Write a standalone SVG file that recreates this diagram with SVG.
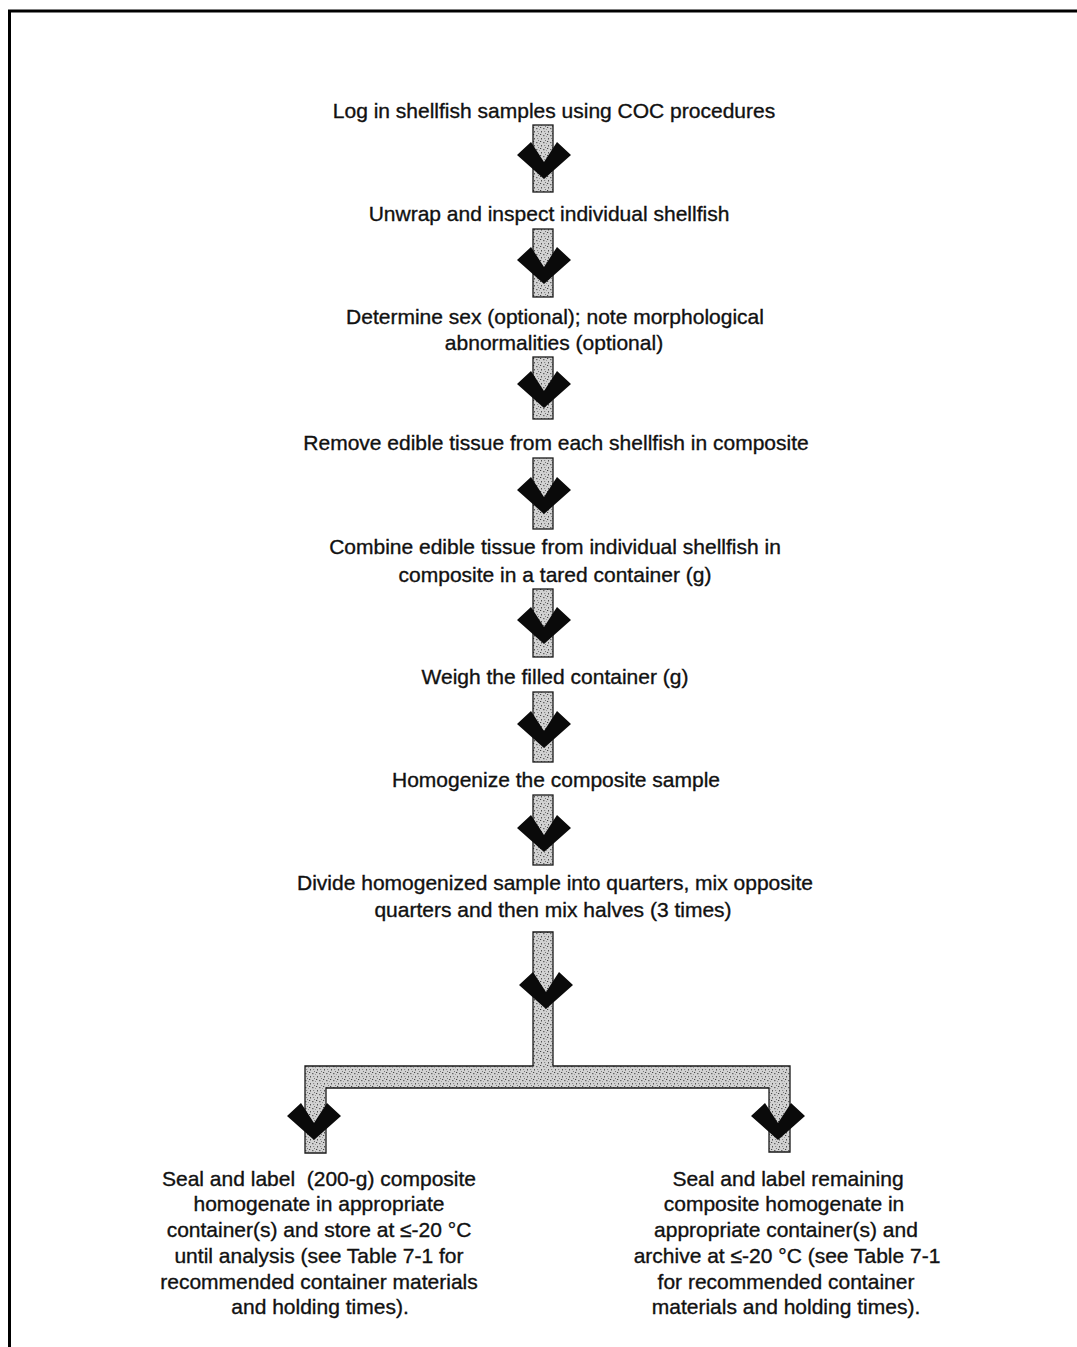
<svg xmlns="http://www.w3.org/2000/svg" width="1077" height="1347" viewBox="0 0 1077 1347">
<defs>
<pattern id="stip" width="7" height="7" patternUnits="userSpaceOnUse">
<rect width="7" height="7" fill="#d2d2d2"/>
<rect x="1" y="1" width="1.2" height="1" fill="#444"/>
<rect x="4" y="2" width="1.5" height="1.2" fill="#666"/>
<rect x="2" y="5" width="1" height="1.5" fill="#555"/>
<rect x="5" y="5" width="1.2" height="1" fill="#888"/>
<rect x="6" y="0" width="1" height="1" fill="#777"/>
<rect x="0" y="3" width="1" height="1" fill="#999"/>
</pattern>
<polygon id="chev" points="-27,13 -13,0 0,20 13,0 27,13 0,37"/>
</defs>
<style>
text{font-family:"Liberation Sans",Arial,sans-serif;font-size:21px;fill:#111;stroke:#111;stroke-width:0.35;text-anchor:middle}
.shaft{fill:url(#stip);stroke:#1a1a1a;stroke-width:1.3}
.chev{fill:#0a0a0a}
.frame{stroke:#000;stroke-width:3;fill:none}
</style>
<rect width="1077" height="1347" fill="#fff"/>
<g id="frame">
<line class="frame" x1="8" y1="11" x2="1077" y2="11"/>
<line class="frame" x1="9.5" y1="10" x2="9.5" y2="1347"/>
</g>
<g id="connectors">
<rect class="shaft" x="533" y="125" width="20" height="67"/>
<use href="#chev" class="chev" x="544" y="142"/>
<rect class="shaft" x="533" y="229" width="20" height="68"/>
<use href="#chev" class="chev" x="544" y="247"/>
<rect class="shaft" x="533" y="357" width="20" height="62"/>
<use href="#chev" class="chev" x="544" y="371"/>
<rect class="shaft" x="533" y="458" width="20" height="71"/>
<use href="#chev" class="chev" x="544" y="477"/>
<rect class="shaft" x="533" y="589" width="20" height="68"/>
<use href="#chev" class="chev" x="544" y="607"/>
<rect class="shaft" x="533" y="692" width="20" height="70"/>
<use href="#chev" class="chev" x="544" y="711"/>
<rect class="shaft" x="533" y="795" width="20" height="70"/>
<use href="#chev" class="chev" x="544" y="815"/>
<path class="shaft" d="M533,932 H553 V1066 H790 V1152 H769 V1088 H326 V1153 H305 V1066 H533 Z"/>
<use href="#chev" class="chev" x="546" y="972"/>
<use href="#chev" class="chev" x="314" y="1103"/>
<use href="#chev" class="chev" x="778" y="1103"/>
</g>
<g id="n1"><text x="554" y="118">Log in shellfish samples using COC procedures</text></g>
<g id="n2"><text x="549" y="221">Unwrap and inspect individual shellfish</text></g>
<g id="n3"><text x="555" y="324">Determine sex (optional); note morphological</text><text x="554" y="350">abnormalities (optional)</text></g>
<g id="n4"><text x="556" y="450">Remove edible tissue from each shellfish in composite</text></g>
<g id="n5"><text x="555" y="554">Combine edible tissue from individual shellfish in</text><text x="555" y="582">composite in a tared container (g)</text></g>
<g id="n6"><text x="555" y="684">Weigh the filled container (g)</text></g>
<g id="n7"><text x="556" y="787">Homogenize the composite sample</text></g>
<g id="n8"><text x="555" y="890">Divide homogenized sample into quarters, mix opposite</text><text x="553" y="917">quarters and then mix halves (3 times)</text></g>
<g id="n9">
<text x="319" y="1186" xml:space="preserve">Seal and label  (200-g) composite</text>
<text x="319" y="1211">homogenate in appropriate</text>
<text x="319" y="1237">container(s) and store at ≤-20 °C</text>
<text x="319" y="1263">until analysis (see Table 7-1 for</text>
<text x="319" y="1289">recommended container materials</text>
<text x="320" y="1314">and holding times).</text>
</g>
<g id="n10">
<text x="788" y="1186">Seal and label remaining</text>
<text x="784" y="1211">composite homogenate in</text>
<text x="786" y="1237">appropriate container(s) and</text>
<text x="787" y="1263">archive at ≤-20 °C (see Table 7-1</text>
<text x="786" y="1289">for recommended container</text>
<text x="786" y="1314">materials and holding times).</text>
</g>
</svg>
